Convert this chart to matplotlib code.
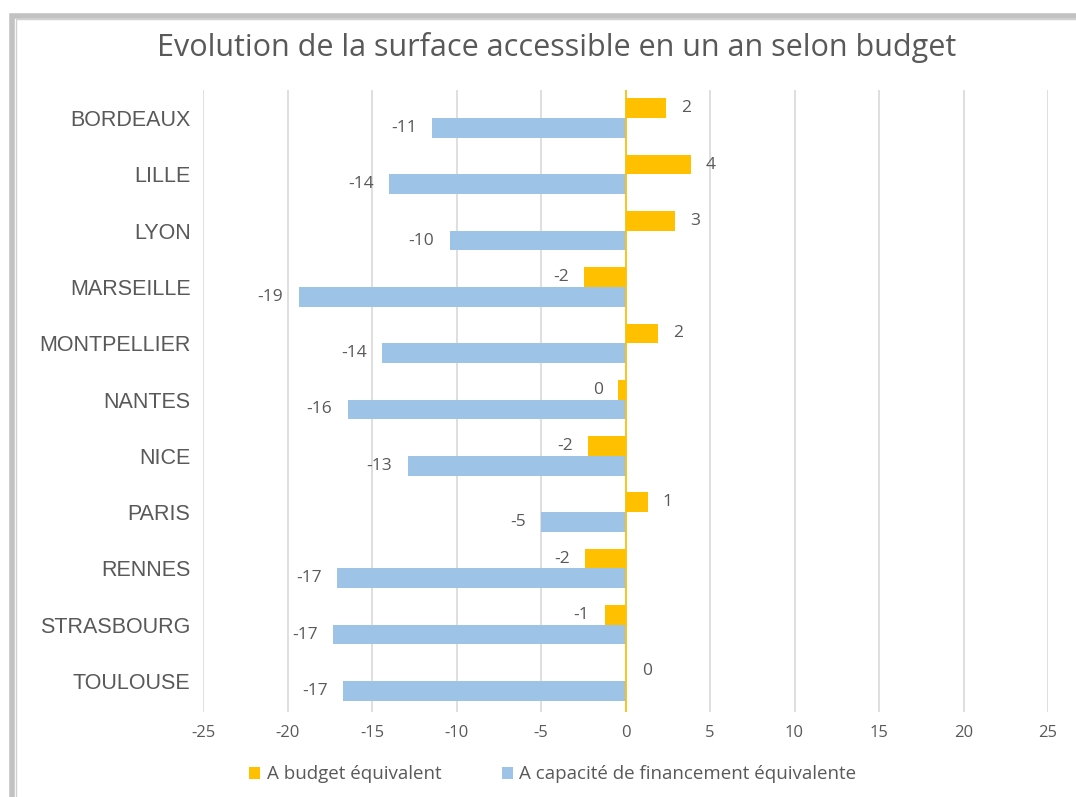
import matplotlib
matplotlib.use("Agg")
import matplotlib.pyplot as plt
from matplotlib.patches import Rectangle
import numpy as np

cities = ["BORDEAUX", "LILLE", "LYON", "MARSEILLE", "MONTPELLIER", "NANTES",
          "NICE", "PARIS", "RENNES", "STRASBOURG", "TOULOUSE"]
budget = [2.4, 3.85, 2.9, -2.43, 1.9, -0.45, -2.2, 1.3, -2.37, -1.24, 0.05]
capacite = [-11.45, -14.0, -10.4, -19.35, -14.4, -16.45, -12.9, -5.0, -17.05, -17.3, -16.7]
xticks = [-25, -20, -15, -10, -5, 0, 5, 10, 15, 20, 25]
series_names = ["A budget équivalent", "A capacité de financement équivalente"]
title = "Evolution de la surface accessible en un an selon budget"

YELLOW = "#FFC000"
BLUE = "#9DC3E6"
TXT = "#595959"

fig = plt.figure(figsize=(10.76, 7.97), dpi=100)
fig.patch.set_facecolor("white")

# frame with shadow
fig.patches.append(Rectangle((0.011, -0.05), 1.2, 1.03, transform=fig.transFigure,
                             facecolor="none", edgecolor="#9a9a9a", linewidth=4, alpha=0.6,
                             zorder=-2))
fig.patches.append(Rectangle((0.015, -0.05), 1.2, 1.026, transform=fig.transFigure,
                             facecolor="white", edgecolor="#d0d0d0", linewidth=1, zorder=-1))

ax = fig.add_axes([0.1887, 0.1066, 0.7853, 0.7805])
ax.set_facecolor("none")
y = np.arange(len(cities))
h = 0.35
ax.barh(y - h / 2, budget, height=h, color=YELLOW, zorder=3, label=series_names[0])
ax.barh(y + h / 2, capacite, height=h, color=BLUE, zorder=3, label=series_names[1])
ax.axvline(0, color=YELLOW, lw=1.2, zorder=4)

ax.set_xlim(-25, 25)
ax.set_ylim(len(cities) - 0.45, -0.5)
ax.set_xticks(xticks)
ax.set_xticklabels([str(t) for t in xticks], fontsize=12, color=TXT, family="Open Sans")
ax.set_yticks(y)
ax.set_yticklabels(cities, fontsize=15.5, color=TXT, family="Liberation Sans")
ax.tick_params(axis="both", length=0)
ax.tick_params(axis="y", pad=9)
ax.tick_params(axis="x", pad=9)
ax.grid(axis="x", color="#D9D9D9", lw=1.2, zorder=0)
for s in ax.spines.values():
    s.set_visible(False)

def lab(v, yy):
    off = 11 if v >= 0 else -11
    ha = "left" if v >= 0 else "right"
    ax.annotate(f"{round(v):d}".replace("-0", "0"), (v, yy), xytext=(off, 0),
                textcoords="offset points", ha=ha, va="center",
                fontsize=12.5, color=TXT, family="Open Sans")

for i in range(len(cities)):
    lab(budget[i], y[i] - h / 2)
    lab(capacite[i], y[i] + h / 2)

fig.text(0.517, 0.94, title, ha="center", va="center", fontsize=22,
         color=TXT, family="Open Sans")

leg = ax.legend(loc="center", bbox_to_anchor=(0.414, -0.1), ncol=2, frameon=False,
                prop={"family": "Open Sans", "size": 13.5}, handlelength=0.6,
                handleheight=0.6, columnspacing=3.2, handletextpad=0.35)
for t in leg.get_texts():
    t.set_color(TXT)

fig.savefig("out.png", dpi=100)
